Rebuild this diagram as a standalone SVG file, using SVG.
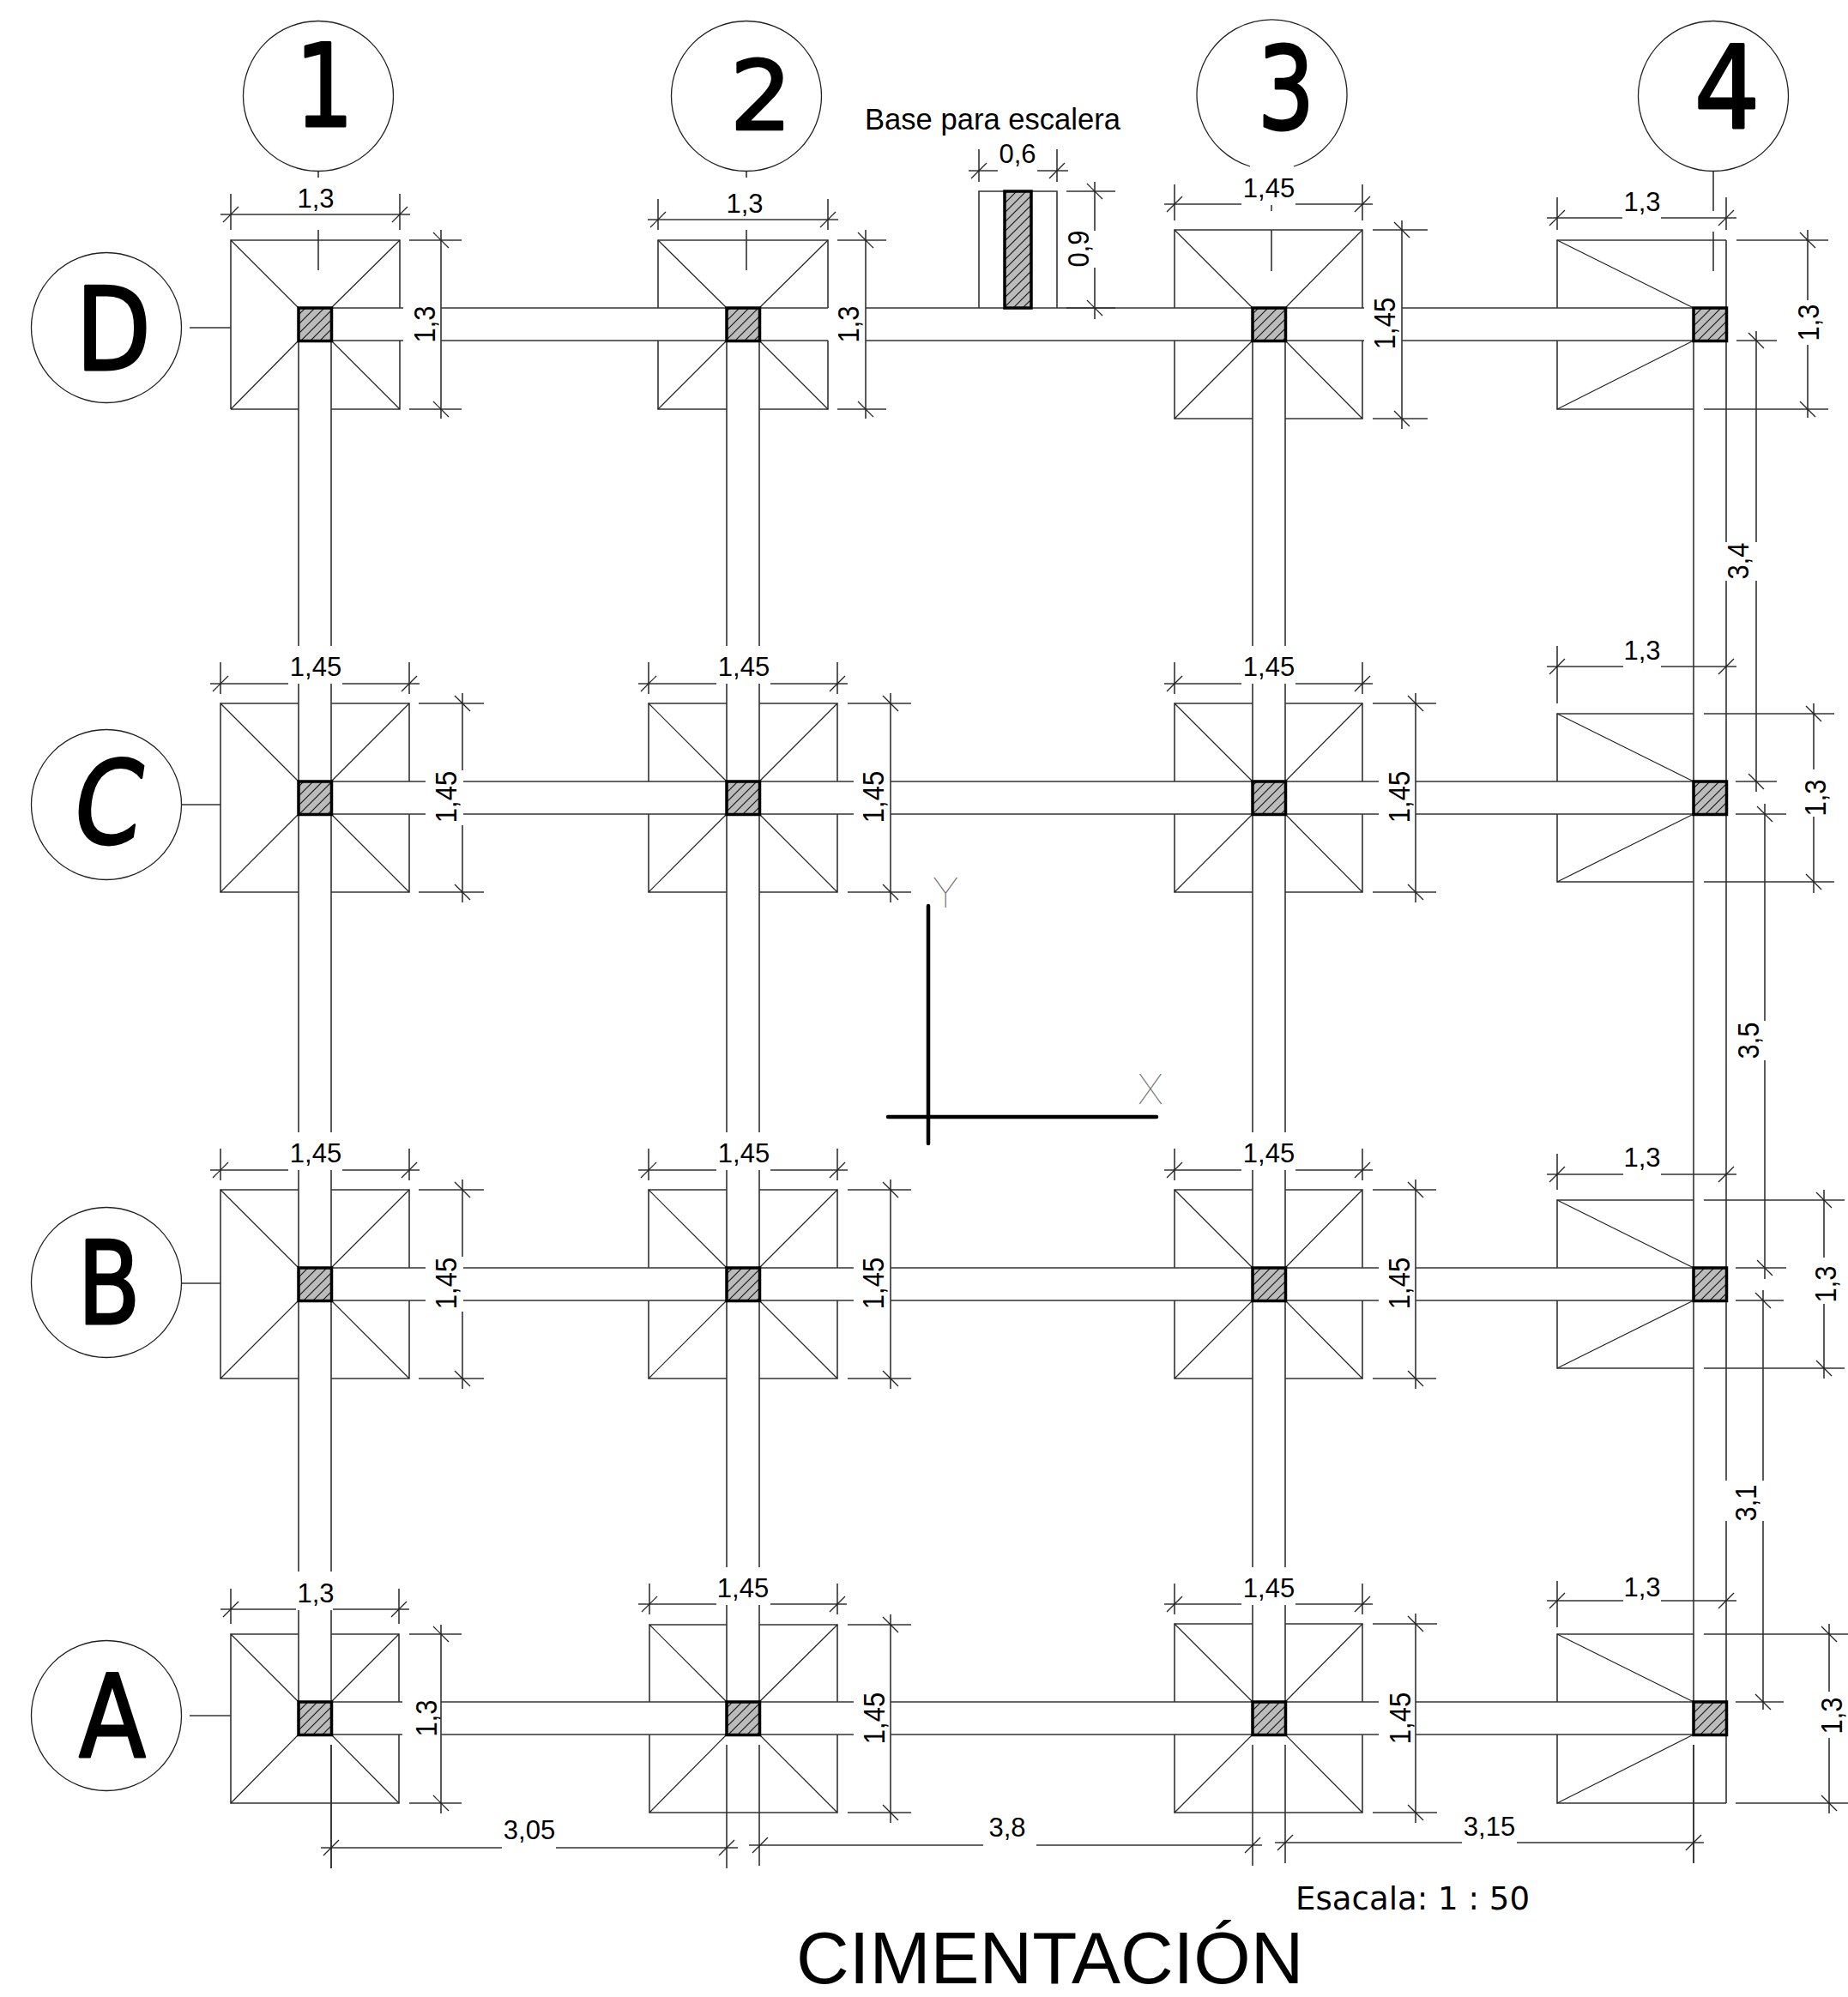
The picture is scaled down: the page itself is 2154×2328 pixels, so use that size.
<svg xmlns="http://www.w3.org/2000/svg" width="2154" height="2328" viewBox="0 0 2154 2328">
<style>
.l{fill:none;stroke:#333;stroke-width:1.6}
.d{fill:none;stroke:#222;stroke-width:1.2}
.c{fill:url(#h);stroke:#000;stroke-width:3.5}
.o{fill:#fff;stroke:#222;stroke-width:1.3}
.t{fill:#000;font-family:"Liberation Sans",Arial,sans-serif;font-size:31px;text-anchor:middle}
.b{fill:#000;stroke:#000;stroke-width:3;stroke-linejoin:round;font-family:"DejaVu Sans",sans-serif;font-size:134px;text-anchor:middle}
.a{fill:#666;font-family:Inter,"Liberation Sans",sans-serif;font-weight:100;font-size:48px;text-anchor:middle}
.k{fill:none;stroke:#000;stroke-width:4.5;stroke-linecap:round}
</style>
<defs>
<pattern id="h" patternUnits="userSpaceOnUse" width="11" height="11"><rect width="11" height="11" fill="#bbb"/><path d="M-1 12L12-1M-1 1L1-1M10 12L12 10" stroke="#111" stroke-width="1.1"/></pattern>
<path id="p" class="d" d="M-9 9L9-9"/>
<path id="n" class="d" d="M-9-9L9 9"/>
</defs>
<rect width="2154" height="2328" fill="#fff"/>

<g id="beams">
<path class="l" d="M386 359H470M514 359H847M885 359H965M1009 359H1460M1498 359H1590M1634 359H1974M386 397H470M514 397H847M885 397H965M1009 397H1460M1498 397H1590M1634 397H1974"/>
<path class="l" d="M386 911H496M540 911H847M885 911H995M1038 911H1460M1498 911H1607M1650 911H1974M386 949H496M540 949H847M885 949H995M1038 949H1460M1498 949H1607M1650 949H1974"/>
<path class="l" d="M386 1478H496M540 1478H847M885 1478H995M1038 1478H1460M1498 1478H1607M1650 1478H1974M386 1516H496M540 1516H847M885 1516H995M1038 1516H1460M1498 1516H1607M1650 1516H1974"/>
<path class="l" d="M386 1984H469M514 1984H847M885 1984H995M1038 1984H1460M1498 1984H1607M1650 1984H1974M386 2022H469M514 2022H847M885 2022H995M1038 2022H1460M1498 2022H1607M1650 2022H1974"/>
<path class="l" d="M348 397V753M348 797V911M348 949V1320M348 1364V1478M348 1516V1832M348 1877V1984M386 397V753M386 797V911M386 949V1320M386 1364V1478M386 1516V1832M386 1877V1984M386 2034V2178"/>
<path class="l" d="M847 397V753M847 797V911M847 949V1320M847 1364V1478M847 1516V1827M847 1871V1984M847 2034V2178M885 397V753M885 797V911M885 949V1320M885 1364V1478M885 1516V1827M885 1871V1984M885 2034V2175"/>
<path class="l" d="M1460 397V753M1460 797V911M1460 949V1320M1460 1364V1478M1460 1516V1827M1460 1871V1984M1460 2034V2175M1498 397V753M1498 797V911M1498 949V1320M1498 1364V1478M1498 1516V1827M1498 1871V1984M1498 2034V2172"/>
<path class="l" d="M1974 397V1984M1974 2034V2172M2012 280V632M2012 677V1726M2012 1773V2102"/>
</g>

<g id="grid-lines">
<path class="l" d="M371 199V207M371 268V315M870 199V207M870 268V315M1482 239V246M1482 268V316M1997 199V246M1997 270V316M221 382H269M211 938H257M212 1496H257M221 2000H269"/>
</g>

<g id="footing-D1"><path class="l" d="M269 477V280H466V359M466 397V477H386M348 477H269"/><path class="d" d="M269 280L348 359M466 280L386 359M269 477L348 397M466 477L386 397"/><rect class="c" x="348" y="359" width="38.500" height="38.500"/></g>
<g id="footing-D2"><path class="l" d="M767 359V280H965V359M965 397V477H885M847 477H767V397"/><path class="d" d="M767 280L847 359M965 280L885 359M767 477L847 397M965 477L885 397"/><rect class="c" x="847" y="359" width="38.500" height="38.500"/></g>
<g id="footing-D3"><path class="l" d="M1369 359V268H1588V359M1588 397V488H1498M1460 488H1369V397"/><path class="d" d="M1369 268L1460 359M1588 268L1498 359M1369 488L1460 397M1588 488L1498 397"/><rect class="c" x="1460" y="359" width="38.500" height="38.500"/></g>
<g id="footing-D4"><path class="l" d="M1815 359V280H2012M1815 397V477H1974"/><path class="d" d="M1815 280L1974 359M1815 477L1974 397"/><rect class="c" x="1974" y="359" width="38.500" height="38.500"/></g>

<g id="footing-C1"><path class="l" d="M348 820H257V1040H348M386 820H477V911M477 949V1040H386"/><path class="d" d="M257 820L348 911M477 820L386 911M257 1040L348 949M477 1040L386 949"/><rect class="c" x="348" y="911" width="38.500" height="38.500"/></g>
<g id="footing-C2"><path class="l" d="M847 820H756V911M756 949V1040H847M885 820H976V911M976 949V1040H885"/><path class="d" d="M756 820L847 911M976 820L885 911M756 1040L847 949M976 1040L885 949"/><rect class="c" x="847" y="911" width="38.500" height="38.500"/></g>
<g id="footing-C3"><path class="l" d="M1460 820H1369V911M1369 949V1040H1460M1498 820H1588V911M1588 949V1040H1498"/><path class="d" d="M1369 820L1460 911M1588 820L1498 911M1369 1040L1460 949M1588 1040L1498 949"/><rect class="c" x="1460" y="911" width="38.500" height="38.500"/></g>
<g id="footing-C4"><path class="l" d="M1974 832H1815V911M1815 949V1028H1974"/><path class="d" d="M1815 832L1974 911M1815 1028L1974 949"/><rect class="c" x="1974" y="911" width="38.500" height="38.500"/></g>

<g id="footing-B1"><path class="l" d="M348 1387H257V1607H348M386 1387H477V1478M477 1516V1607H386"/><path class="d" d="M257 1387L348 1478M477 1387L386 1478M257 1607L348 1516M477 1607L386 1516"/><rect class="c" x="348" y="1478" width="38.500" height="38.500"/></g>
<g id="footing-B2"><path class="l" d="M847 1387H756V1478M756 1516V1607H847M885 1387H976V1478M976 1516V1607H885"/><path class="d" d="M756 1387L847 1478M976 1387L885 1478M756 1607L847 1516M976 1607L885 1516"/><rect class="c" x="847" y="1478" width="38.500" height="38.500"/></g>
<g id="footing-B3"><path class="l" d="M1460 1387H1369V1478M1369 1516V1607H1460M1498 1387H1588V1478M1588 1516V1607H1498"/><path class="d" d="M1369 1387L1460 1478M1588 1387L1498 1478M1369 1607L1460 1516M1588 1607L1498 1516"/><rect class="c" x="1460" y="1478" width="38.500" height="38.500"/></g>
<g id="footing-B4"><path class="l" d="M1974 1399H1815V1478M1815 1516V1595H1974"/><path class="d" d="M1815 1399L1974 1478M1815 1595L1974 1516"/><rect class="c" x="1974" y="1478" width="38.500" height="38.500"/></g>

<g id="footing-A1"><path class="l" d="M348 1905H269V2102H465V2022M465 1984V1905H386"/><path class="d" d="M269 1905L348 1984M465 1905L386 1984M269 2102L348 2022M465 2102L386 2022"/><rect class="c" x="348" y="1984" width="38.500" height="38.500"/></g>
<g id="footing-A2"><path class="l" d="M847 1894H757V1984M757 2022V2113H976V2022M976 1984V1894H885"/><path class="d" d="M757 1894L847 1984M976 1894L885 1984M757 2113L847 2022M976 2113L885 2022"/><rect class="c" x="847" y="1984" width="38.500" height="38.500"/></g>
<g id="footing-A3"><path class="l" d="M1460 1893H1369V1984M1369 2022V2113H1588V2022M1588 1984V1893H1498"/><path class="d" d="M1369 1893L1460 1984M1588 1893L1498 1984M1369 2113L1460 2022M1588 2113L1498 2022"/><rect class="c" x="1460" y="1984" width="38.500" height="38.500"/></g>
<g id="footing-A4"><path class="l" d="M1974 1905H1815V1984M1815 2022V2102H2012"/><path class="d" d="M1815 1905L1974 1984M1815 2102L1974 2022"/><rect class="c" x="1974" y="1984" width="38.500" height="38.500"/></g>

<g id="stair-base">
<path class="l" d="M1141 359V223H1232V359"/>
<rect class="c" x="1171" y="223" width="31" height="136"/>
<text class="t" x="1157" y="151" style="font-size:34.600px">Base para escalera</text>
</g>

<g id="dimensions">
<path class="l" d="M257 250H478M269 226V268M466 226V268M755 256H977M767 232V268M965 232V268M1357 238H1447M1510 238H1600M1369 215V257M1588 215V257M1803 254H1891M1936 254H2024M1815 230V268M2012 230V268"/>
<path class="l" d="M245 797H336M399 797H489M257 772V809M477 772V809M744 797H835M898 797H988M756 772V809M976 772V809M1357 797H1447M1510 797H1600M1369 772V809M1588 772V809M1803 777H1892M1936 777H2024M1815 753V820"/>
<path class="l" d="M245 1364H336M399 1364H489M257 1339V1376M477 1339V1376M744 1364H835M898 1364H988M756 1339V1376M976 1339V1376M1357 1364H1447M1510 1364H1600M1369 1339V1376M1588 1339V1376M1803 1369H1892M1936 1369H2024M1815 1345V1387"/>
<path class="l" d="M257 1876H345M388 1876H477M269 1852V1893M465 1852V1893M744 1870H835M898 1870H987M757 1846V1882M976 1846V1882M1357 1870H1447M1510 1870H1600M1369 1846V1882M1588 1846V1882M1803 1866H1892M1936 1866H2024M1815 1843V1897"/>
<path class="l" d="M514 268V488M477 280H538M477 477H538M1009 268V488M976 280H1033M976 477H1033M1634 257V500M1600 268H1664M1600 488H1664M2107 268V350M2107 402V487M2024 280H2131M1986 477H2131"/>
<path class="l" d="M539 808V898M539 962V1052M488 820H564M488 1040H564M1038 808V1052M988 820H1062M988 1040H1062M1650 808V1052M1600 820H1674M1600 1040H1674M2114 820V897M2114 952V1041M1986 832H2138M1986 1028H2138"/>
<path class="l" d="M539 1375V1465M539 1529V1619M488 1387H564M488 1607H564M1038 1375V1619M988 1387H1062M988 1607H1062M1650 1375V1619M1600 1387H1674M1600 1607H1674M2126 1387V1466M2126 1520V1607M1986 1399H2150M1986 1595H2150"/>
<path class="l" d="M514 1894V2114M477 1905H538M477 2102H538M1038 1882V2125M988 1894H1062M988 2113H1062M1650 1881V2125M1600 1893H1675M1600 2113H1675M2132 1893V1972M2132 2026V2114M1986 1905H2154M2023 2102H2154"/>
<path class="l" d="M2047 386V632M2047 677V923M2024 397H2071M2023 911H2071M2057 937V1190M2057 1236V1491M2023 949H2082M2023 1478H2082M2055 1504V1726M2055 1773V1993M2023 1516H2079M2023 1984H2079"/>
<path class="l" d="M374 2154H585M648 2154H860M386 2034V2178M873 2151H1146M1208 2151H1471M1486 2148H1704M1768 2148H1986M1974 2034V2172"/>
<path class="l" d="M1129 199H1163M1209 199H1245M1141 174V212M1232 174V212M1276 212V269M1276 312V372M1243 223H1300M1243 359H1300"/>
<use href="#p" x="269" y="250"/><use href="#p" x="466" y="250"/><use href="#p" x="767" y="256"/><use href="#p" x="965" y="256"/><use href="#p" x="1369" y="238"/><use href="#p" x="1588" y="238"/><use href="#p" x="1815" y="254"/><use href="#p" x="2012" y="254"/>
<use href="#p" x="257" y="797"/><use href="#p" x="477" y="797"/><use href="#p" x="756" y="797"/><use href="#p" x="976" y="797"/><use href="#p" x="1369" y="797"/><use href="#p" x="1588" y="797"/><use href="#p" x="1815" y="777"/><use href="#p" x="2012" y="777"/>
<use href="#p" x="257" y="1364"/><use href="#p" x="477" y="1364"/><use href="#p" x="756" y="1364"/><use href="#p" x="976" y="1364"/><use href="#p" x="1369" y="1364"/><use href="#p" x="1588" y="1364"/><use href="#p" x="1815" y="1369"/><use href="#p" x="2012" y="1369"/>
<use href="#p" x="269" y="1876"/><use href="#p" x="465" y="1876"/><use href="#p" x="757" y="1870"/><use href="#p" x="976" y="1870"/><use href="#p" x="1369" y="1870"/><use href="#p" x="1588" y="1870"/><use href="#p" x="1815" y="1866"/><use href="#p" x="2012" y="1866"/>
<use href="#p" x="386" y="2154"/><use href="#p" x="847" y="2154"/><use href="#p" x="886" y="2151"/><use href="#p" x="1460" y="2151"/><use href="#p" x="1498" y="2148"/><use href="#p" x="1974" y="2148"/><use href="#p" x="1141" y="199"/><use href="#p" x="1232" y="199"/>
<use href="#n" x="514" y="280"/><use href="#n" x="514" y="477"/><use href="#n" x="1009" y="280"/><use href="#n" x="1009" y="477"/><use href="#n" x="1634" y="268"/><use href="#n" x="1634" y="488"/><use href="#n" x="2107" y="280"/><use href="#n" x="2107" y="477"/>
<use href="#n" x="539" y="820"/><use href="#n" x="539" y="1040"/><use href="#n" x="1038" y="820"/><use href="#n" x="1038" y="1040"/><use href="#n" x="1650" y="820"/><use href="#n" x="1650" y="1040"/><use href="#n" x="2114" y="832"/><use href="#n" x="2114" y="1028"/>
<use href="#n" x="539" y="1387"/><use href="#n" x="539" y="1607"/><use href="#n" x="1038" y="1387"/><use href="#n" x="1038" y="1607"/><use href="#n" x="1650" y="1387"/><use href="#n" x="1650" y="1607"/><use href="#n" x="2126" y="1399"/><use href="#n" x="2126" y="1595"/>
<use href="#n" x="514" y="1905"/><use href="#n" x="514" y="2102"/><use href="#n" x="1038" y="1894"/><use href="#n" x="1038" y="2113"/><use href="#n" x="1650" y="1893"/><use href="#n" x="1650" y="2113"/><use href="#n" x="2132" y="1905"/><use href="#n" x="2132" y="2102"/>
<use href="#n" x="2047" y="397"/><use href="#n" x="2047" y="911"/><use href="#n" x="2057" y="949"/><use href="#n" x="2057" y="1478"/><use href="#n" x="2055" y="1516"/><use href="#n" x="2055" y="1984"/><use href="#n" x="1276" y="223"/><use href="#n" x="1276" y="359"/>

<text class="t" x="368" y="242">1,3</text><text class="t" x="868" y="248">1,3</text><text class="t" x="1479" y="230">1,45</text><text class="t" x="1914" y="246">1,3</text>
<text class="t" x="368" y="788">1,45</text><text class="t" x="867" y="788">1,45</text><text class="t" x="1479" y="788">1,45</text><text class="t" x="1914" y="769">1,3</text>
<text class="t" x="368" y="1355">1,45</text><text class="t" x="867" y="1355">1,45</text><text class="t" x="1479" y="1355">1,45</text><text class="t" x="1914" y="1360">1,3</text>
<text class="t" x="368" y="1868">1,3</text><text class="t" x="866" y="1862">1,45</text><text class="t" x="1479" y="1862">1,45</text><text class="t" x="1914" y="1861">1,3</text>
<text class="t" x="617" y="2144">3,05</text><text class="t" x="1174" y="2141">3,8</text><text class="t" x="1736" y="2140">3,15</text><text class="t" x="1186" y="190">0,6</text>
<text class="t" transform="translate(507 378) rotate(-90) scale(1 1.12)">1,3</text><text class="t" transform="translate(1001 378) rotate(-90) scale(1 1.12)">1,3</text><text class="t" transform="translate(1626 377) rotate(-90) scale(1 1.12)">1,45</text><text class="t" transform="translate(2120 376) rotate(-90) scale(1 1.12)">1,3</text>
<text class="t" transform="translate(532 929) rotate(-90) scale(1 1.12)">1,45</text><text class="t" transform="translate(1030 929) rotate(-90) scale(1 1.12)">1,45</text><text class="t" transform="translate(1643 929) rotate(-90) scale(1 1.12)">1,45</text><text class="t" transform="translate(2128 930) rotate(-90) scale(1 1.12)">1,3</text>
<text class="t" transform="translate(532 1496) rotate(-90) scale(1 1.12)">1,45</text><text class="t" transform="translate(1030 1496) rotate(-90) scale(1 1.12)">1,45</text><text class="t" transform="translate(1643 1496) rotate(-90) scale(1 1.12)">1,45</text><text class="t" transform="translate(2140 1497) rotate(-90) scale(1 1.12)">1,3</text>
<text class="t" transform="translate(509 2003) rotate(-90) scale(1 1.12)">1,3</text><text class="t" transform="translate(1031 2003) rotate(-90) scale(1 1.12)">1,45</text><text class="t" transform="translate(1644 2003) rotate(-90) scale(1 1.12)">1,45</text><text class="t" transform="translate(2147 2000) rotate(-90) scale(1 1.12)">1,3</text>
<text class="t" transform="translate(2038 654) rotate(-90) scale(1 1.12)">3,4</text><text class="t" transform="translate(2050 1213) rotate(-90) scale(1 1.12)">3,5</text><text class="t" transform="translate(2047 1752) rotate(-90) scale(1 1.12)">3,1</text><text class="t" transform="translate(1269 290) rotate(-90) scale(1 1.12)">0,9</text>
</g>

<g id="axis-1"><circle class="o" cx="371" cy="112" r="87.500"/><text class="b" transform="translate(378 147) scale(.8 1)">1</text></g>
<g id="axis-2"><circle class="o" cx="870" cy="112" r="87.500"/><text class="b" transform="translate(887 151) scale(.85 .84)">2</text></g>
<g id="axis-3"><path class="o" d="M1457 194A87.500 87.500 0 1 1 1508 194"/><text class="b" transform="translate(1499 150) scale(.78 1)">3</text></g>
<g id="axis-4"><circle class="o" cx="1997" cy="112" r="87.500"/><text class="b" transform="translate(2013 149) scale(.9 1)">4</text></g>
<g id="axis-D"><circle class="o" cx="124" cy="382" r="87.500"/><text class="b" transform="translate(132 431) scale(.85 1)">D</text></g>
<g id="axis-C"><circle class="o" cx="124" cy="938" r="87.500"/><text class="b" transform="translate(120 983) scale(.85 1) skewX(-10)">C</text></g>
<g id="axis-B"><circle class="o" cx="124" cy="1495" r="87.500"/><text class="b" transform="translate(127 1543) scale(.8 1)">B</text></g>
<g id="axis-A"><circle class="o" cx="124" cy="2000" r="87.500"/><text class="b" transform="translate(131 2048) scale(.85 1)">A</text></g>

<g id="xy">
<path class="k" d="M1082 1056V1333M1035 1302H1348"/>
<text class="a" x="1102" y="1058">Y</text>
<text class="a" x="1341" y="1287">X</text>
</g>

<text x="1510" y="2226" textLength="273" lengthAdjust="spacingAndGlyphs" style="font-family:'DejaVu Sans',sans-serif;font-size:38px;fill:#000">Esacala: 1 : 50</text>
<text x="928" y="2312" style="font-family:'Liberation Sans',Arial,sans-serif;font-size:85.400px;fill:#000">CIMENTACIÓN</text>
</svg>
